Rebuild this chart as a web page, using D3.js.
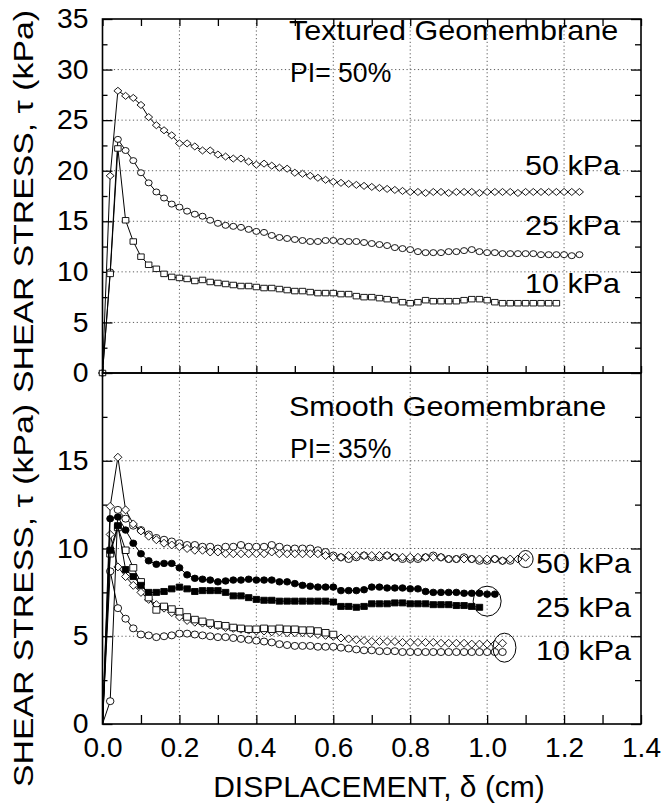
<!DOCTYPE html>
<html>
<head>
<meta charset="utf-8">
<script src="https://cdn.jsdelivr.net/npm/d3@7"></script>
<style>
  body { margin: 0; background: #fff; }
  svg { display: block; font-family: "Liberation Sans", Arial, Helvetica, sans-serif; }
</style>
</head>
<body>
<div id="chart"></div>
<script>
// displacement step between readings (cm)
const STEP = 0.02;

const xMajor = [0, 0.2, 0.4, 0.6, 0.8, 1.0, 1.2, 1.4];
const xMinor = [0.1, 0.3, 0.5, 0.7, 0.9, 1.1, 1.3];
const topMajor = [0, 5, 10, 15, 20, 25, 30, 35];
const topMinor = [2.5, 7.5, 12.5, 17.5, 22.5, 27.5, 32.5];
const botMajor = [0, 5, 10, 15];
const botMinor = [2.5, 7.5, 12.5, 17.5];

const panelTitles = ['Textured Geomembrane', 'Smooth Geomembrane'];
const plasticity = ['PI= 50%', 'PI= 35%'];
const loadLabels = ['50 kPa', '25 kPa', '10 kPa'];

// textured geomembrane, shear stress (kPa)
const tex50 = [
  0, 19.5, 27.9, 27.4, 27.2, 26.5, 25.3, 24.5, 24.0, 23.5,
  22.7, 22.7, 22.4, 22.0, 22.0, 21.6, 21.4, 21.2, 21.2, 20.9,
  20.6, 20.7, 20.5, 20.3, 20.2, 19.8, 19.7, 19.5, 19.3, 19.1,
  18.9, 18.8, 18.7, 18.6, 18.5, 18.4, 18.3, 18.2, 18.1, 18.0,
  17.9, 17.9, 17.8, 17.9, 17.9, 17.8, 17.9, 17.9, 17.9, 17.8,
  17.9, 17.9, 17.9, 17.9, 17.8, 17.9, 17.9, 17.9, 17.9, 17.9,
  17.9, 17.9, 17.9
];
const tex25 = [
  0, 10.0, 23.1, 22.0, 21.0, 19.8, 18.8, 17.9, 17.3, 16.7,
  16.4, 16.0, 15.7, 15.5, 15.1, 14.8, 14.6, 14.5, 14.4, 14.2,
  14.0, 13.9, 13.6, 13.4, 13.3, 13.2, 13.1, 13.0, 13.0, 13.1,
  13.1, 13.0, 13.0, 13.0, 12.9, 12.8, 12.7, 12.6, 12.4, 12.3,
  12.2, 12.0, 11.9, 11.9, 11.9, 12.0, 12.0, 12.1, 12.2, 12.0,
  11.9, 11.9, 11.8, 11.8, 11.8, 11.8, 11.8, 11.7, 11.7, 11.7,
  11.7, 11.6, 11.7
];
const tex10 = [
  0, 9.8, 22.2, 15.1, 13.0, 11.5, 10.7, 10.3, 9.8, 9.5,
  9.4, 9.3, 9.1, 9.2, 9.0, 8.9, 8.8, 8.7, 8.6, 8.6,
  8.5, 8.4, 8.4, 8.3, 8.2, 8.1, 8.1, 8.0, 7.9, 7.9,
  7.9, 7.8, 7.8, 7.6, 7.5, 7.5, 7.4, 7.3, 7.2, 7.0,
  6.9, 7.0, 7.2, 7.1, 7.1, 7.1, 7.1, 7.2, 7.3, 7.3,
  7.2, 7.0, 6.9, 6.9, 6.9, 6.9, 6.9, 6.9, 6.9, 6.9
];

// smooth geomembrane, shear stress (kPa)
const sm50d = [
  0, 12.4, 15.2, 12.2, 11.4, 11.0, 10.7, 10.5, 10.3, 10.2,
  10.1, 10.0, 9.9, 9.9, 9.8, 9.8, 9.7, 9.7, 9.7, 9.7,
  9.7, 9.7, 9.8, 9.7, 9.7, 9.7, 9.7, 9.7, 9.7, 9.6,
  9.5, 9.5, 9.6, 9.6, 9.6, 9.6, 9.6, 9.6, 9.5, 9.5,
  9.5, 9.5, 9.5, 9.5, 9.5, 9.4, 9.4, 9.4, 9.4, 9.4,
  9.4, 9.4, 9.3, 9.4, 9.4, 9.5
];
const sm50c = [
  0, 1.3, 12.2, 11.7, 11.3, 11.05, 10.8, 10.6, 10.5, 10.4,
  10.3, 10.2, 10.2, 10.1, 10.1, 10.0, 10.1, 10.1, 10.2, 10.1,
  10.1, 10.1, 10.2, 10.1, 10.0, 10.0, 10.0, 10.0, 9.9, 9.8,
  9.6, 9.5, 9.4, 9.5, 9.6, 9.5, 9.5, 9.6, 9.5, 9.4,
  9.4, 9.4, 9.5, 9.6, 9.5, 9.4, 9.4, 9.5, 9.4, 9.3,
  9.3, 9.4, 9.3, 9.3
];
const sm25c = [
  0, 11.7, 11.8, 11.05, 10.3, 9.7, 9.3, 9.1, 9.15, 9.15,
  8.9, 8.5, 8.3, 8.25, 8.2, 8.1, 8.15, 8.2, 8.2, 8.25,
  8.2, 8.2, 8.2, 8.1, 8.1, 8.0, 7.9, 7.85, 7.8, 7.8,
  7.8, 7.6, 7.6, 7.6, 7.65, 7.8, 7.8, 7.75, 7.75, 7.75,
  7.7, 7.7, 7.55, 7.5, 7.5, 7.5, 7.5, 7.45, 7.45, 7.45,
  7.4, 7.4
];
const sm25s = [
  0, 9.9, 11.3, 8.8, 8.4, 7.9, 7.5, 7.5, 7.55, 7.7,
  7.8, 7.7, 7.55, 7.6, 7.6, 7.6, 7.5, 7.3, 7.3, 7.2,
  7.1, 7.05, 7.05, 7.0, 7.0, 7.0, 7.0, 7.0, 7.0, 7.0,
  6.95, 6.7, 6.7, 6.65, 6.7, 6.85, 6.85, 6.85, 6.9, 6.9,
  6.85, 6.85, 6.85, 6.8, 6.8, 6.8, 6.75, 6.75, 6.7, 6.65
];
const sm10s = [
  0, 9.7, 11.2, 9.9, 8.9, 8.1, 7.2, 6.5, 6.7, 6.55,
  6.4, 6.1, 5.95, 5.85, 5.75, 5.65, 5.6, 5.5, 5.45, 5.4,
  5.4, 5.45, 5.4, 5.45, 5.4, 5.4, 5.35, 5.35, 5.3, 5.2,
  5.1
];
const sm10d = [
  0, 10.8, 8.95, 8.4, 7.9, 7.5, 7.1, 6.8, 6.6, 6.35,
  6.1, 5.9, 5.8, 5.75, 5.65, 5.6, 5.5, 5.45, 5.4, 5.35,
  5.3, 5.3, 5.25, 5.25, 5.2, 5.2, 5.2, 5.15, 5.1, 5.05,
  5.0, 4.9, 4.85, 4.8, 4.75, 4.7, 4.7, 4.7, 4.7, 4.65,
  4.65, 4.65, 4.65, 4.65, 4.6, 4.6, 4.6, 4.6, 4.55, 4.55,
  4.55, 4.55, 4.6
];
const sm10c = [
  0, 8.7, 6.6, 6.0, 5.45, 5.1, 5.05, 4.95, 5.0, 5.05,
  5.15, 5.15, 5.1, 5.05, 5.0, 4.95, 4.95, 4.9, 4.85, 4.8,
  4.75, 4.7, 4.65, 4.55, 4.5, 4.45, 4.45, 4.45, 4.4, 4.4,
  4.4, 4.35, 4.3, 4.25, 4.2, 4.2, 4.15, 4.15, 4.15, 4.1,
  4.1, 4.1, 4.1, 4.1, 4.1, 4.1, 4.1, 4.1, 4.1, 4.1,
  4.1, 4.1, 4.1
];

// end points circled on the smooth panel: [displacement, stress]
const rings = [[1.1, 9.4], [1.0, 7.0], [1.045, 4.35]];

const width = 663, height = 808;
const plotL = 102.5, plotR = 641, plotT = 19, plotM = 373, plotB = 724;

const svg = d3.select('#chart').append('svg').attr('width', width).attr('height', height);

const x = d3.scaleLinear().domain([0, 1.4]).range([plotL, plotR]);
const yTop = d3.scaleLinear().domain([0, 35]).range([plotM, plotT]);
const yBot = d3.scaleLinear().domain([0, 20]).range([plotB, plotM]);

function shape(kind, w, h) {
  const a = w / 2, b = h / 2;
  if (kind === 'diamond') return `M0,${-b}L${a},0L0,${b}L${-a},0Z`;
  if (kind === 'square') return `M${-a},${-b}H${a}V${b}H${-a}Z`;
  return `M${-a},0A${a},${b} 0 1,0 ${a},0A${a},${b} 0 1,0 ${-a},0Z`;
}

function stretch(sel, k) {
  sel.each(function () {
    const n = this.getComputedTextLength();
    this.setAttribute('textLength', n * k);
    this.setAttribute('lengthAdjust', 'spacingAndGlyphs');
  });
}

const panels = [
  {
    y: yTop, major: topMajor, minor: topMinor, grid: [5, 10, 15, 20, 25, 30], y0: plotT, y1: plotM, firstMarker: true,
    series: [
      { values: tex50, kind: 'diamond', w: 8, h: 7, fill: '#fff' },
      { values: tex25, kind: 'circle', w: 7, h: 6, fill: '#fff' },
      { values: tex10, kind: 'square', w: 6.5, h: 5.5, fill: '#fff' },
    ],
  },
  {
    y: yBot, major: botMajor, minor: botMinor, grid: [5, 10, 15], y0: plotM, y1: plotB, firstMarker: false,
    series: [
      { values: sm10c, kind: 'circle', w: 7.5, h: 7, fill: '#fff' },
      { values: sm10d, kind: 'diamond', w: 8, h: 8, fill: '#fff' },
      { values: sm10s, kind: 'square', w: 7, h: 6.5, fill: '#fff' },
      { values: sm25s, kind: 'square', w: 6.5, h: 6, fill: '#000' },
      { values: sm25c, kind: 'circle', w: 7, h: 6.5, fill: '#000' },
      { values: sm50c, kind: 'circle', w: 7.5, h: 7, fill: '#fff' },
      { values: sm50d, kind: 'diamond', w: 8, h: 8, fill: '#fff' },
    ],
  },
];

panels.forEach((p) => {
  const g = svg.append('g');

  // dotted grid
  g.append('g').selectAll('line').data(xMajor.slice(1, -1)).join('line')
    .attr('x1', (d) => x(d)).attr('x2', (d) => x(d))
    .attr('y1', p.y0).attr('y2', p.y1)
    .attr('stroke', '#333').attr('stroke-width', 0.8).attr('stroke-dasharray', '1.2,2.6');
  g.append('g').selectAll('line').data(p.grid).join('line')
    .attr('x1', plotL).attr('x2', plotR)
    .attr('y1', (d) => p.y(d)).attr('y2', (d) => p.y(d))
    .attr('stroke', '#333').attr('stroke-width', 0.8).attr('stroke-dasharray', '1.2,2.6');

  // y axes, ticks pointing inward
  const yl = g.append('g').attr('transform', `translate(${plotL},0)`)
    .call(d3.axisLeft(p.y).tickValues(p.major).tickSize(-10).tickPadding(14).tickFormat(d3.format('d')));
  g.append('g').attr('transform', `translate(${plotL},0)`)
    .call(d3.axisLeft(p.y).tickValues(p.minor).tickSize(-5).tickFormat(''));
  g.append('g').attr('transform', `translate(${plotR},0)`)
    .call(d3.axisRight(p.y).tickValues(p.major).tickSize(-10).tickFormat(''));
  g.append('g').attr('transform', `translate(${plotR},0)`)
    .call(d3.axisRight(p.y).tickValues(p.minor).tickSize(-6).tickFormat(''));
  g.selectAll('.domain').remove();
  g.selectAll('.tick line').attr('stroke', '#000').attr('stroke-width', 1.3);
  g.selectAll('g').attr('font-family', null);
  yl.attr('font-size', 27);
  yl.selectAll('text').attr('fill', '#000').call(stretch, 1.05);

  // series: connecting line, then markers
  const line = d3.line().x((d) => x(d[0])).y((d) => p.y(d[1]));
  p.series.forEach((s) => {
    const pts = s.values.map((v, i) => [i * STEP, v]);
    g.append('path').datum(pts).attr('d', line)
      .attr('fill', 'none').attr('stroke', '#000').attr('stroke-width', 1);
    g.append('g').selectAll('path').data(p.firstMarker ? pts : pts.slice(1)).join('path')
      .attr('transform', (d) => `translate(${x(d[0])},${p.y(d[1])})`)
      .attr('d', shape(s.kind, s.w, s.h))
      .attr('fill', s.fill).attr('stroke', '#000').attr('stroke-width', 0.9);
  });
});

// x ticks: top and bottom of upper panel, bottom of lower panel
const xAll = xMajor.concat(xMinor);
const xt = svg.append('g');
xt.append('g').attr('transform', `translate(0,${plotT})`)
  .call(d3.axisTop(x).tickValues(xAll).tickSize(-7).tickFormat(''));
xt.append('g').attr('transform', `translate(0,${plotM})`)
  .call(d3.axisBottom(x).tickValues(xAll).tickSize(-7).tickFormat(''));
xt.append('g').attr('transform', `translate(0,${plotB})`)
  .call(d3.axisBottom(x).tickValues(xMinor).tickSize(-9).tickFormat(''));
const xb = xt.append('g').attr('transform', `translate(0,${plotB})`)
  .call(d3.axisBottom(x).tickValues(xMajor).tickSize(-9).tickPadding(13).tickFormat(d3.format('.1f')));
xt.selectAll('.domain').remove();
xt.selectAll('.tick line').attr('stroke', '#000').attr('stroke-width', 1.3);
xt.selectAll('g').attr('font-family', null);
xb.attr('font-size', 28);
xb.selectAll('text').attr('fill', '#000');

// frames
[[plotT, plotM], [plotM, plotB]].forEach(([a, b]) => {
  svg.append('rect').attr('x', plotL).attr('y', a).attr('width', plotR - plotL).attr('height', b - a)
    .attr('fill', 'none').attr('stroke', '#000').attr('stroke-width', 1.6);
});

// circled end points
const ringRadii = [[7.5, 8.5], [14, 15], [11.5, 14.5]];
svg.append('g').selectAll('ellipse').data(rings).join('ellipse')
  .attr('cx', (d) => x(d[0])).attr('cy', (d) => yBot(d[1]))
  .attr('rx', (d, i) => ringRadii[i][0]).attr('ry', (d, i) => ringRadii[i][1])
  .attr('fill', 'none').attr('stroke', '#000').attr('stroke-width', 1);

// annotation text
const notes = svg.append('g').attr('font-size', 28).attr('fill', '#000');
[40, 416].forEach((yb, i) => {
  notes.append('text').attr('x', 289).attr('y', yb).text(panelTitles[i]).call(stretch, 1.09);
});
[82, 458].forEach((yb, i) => {
  notes.append('text').attr('x', 290).attr('y', yb).text(plasticity[i]).call(stretch, 0.95);
});
[175, 235, 292.7].forEach((yb, i) => {
  notes.append('text').attr('x', 620).attr('y', yb).attr('text-anchor', 'end').text(loadLabels[i]).call(stretch, 1.09);
});
[573, 616.7, 660].forEach((yb, i) => {
  notes.append('text').attr('x', 631).attr('y', yb).attr('text-anchor', 'end').text(loadLabels[i]).call(stretch, 1.09);
});

// axis titles
[201.5, 595.5].forEach((cy) => {
  svg.append('text').attr('transform', `translate(33,${cy}) rotate(-90)`)
    .attr('text-anchor', 'middle').attr('font-size', 28)
    .attr('textLength', 383).attr('lengthAdjust', 'spacingAndGlyphs')
    .text('SHEAR STRESS, \u03c4 (kPa)');
});
svg.append('text').attr('x', 379).attr('y', 797).attr('text-anchor', 'middle').attr('font-size', 30)
  .text('DISPLACEMENT, \u03b4 (cm)');
</script>
</body>
</html>
